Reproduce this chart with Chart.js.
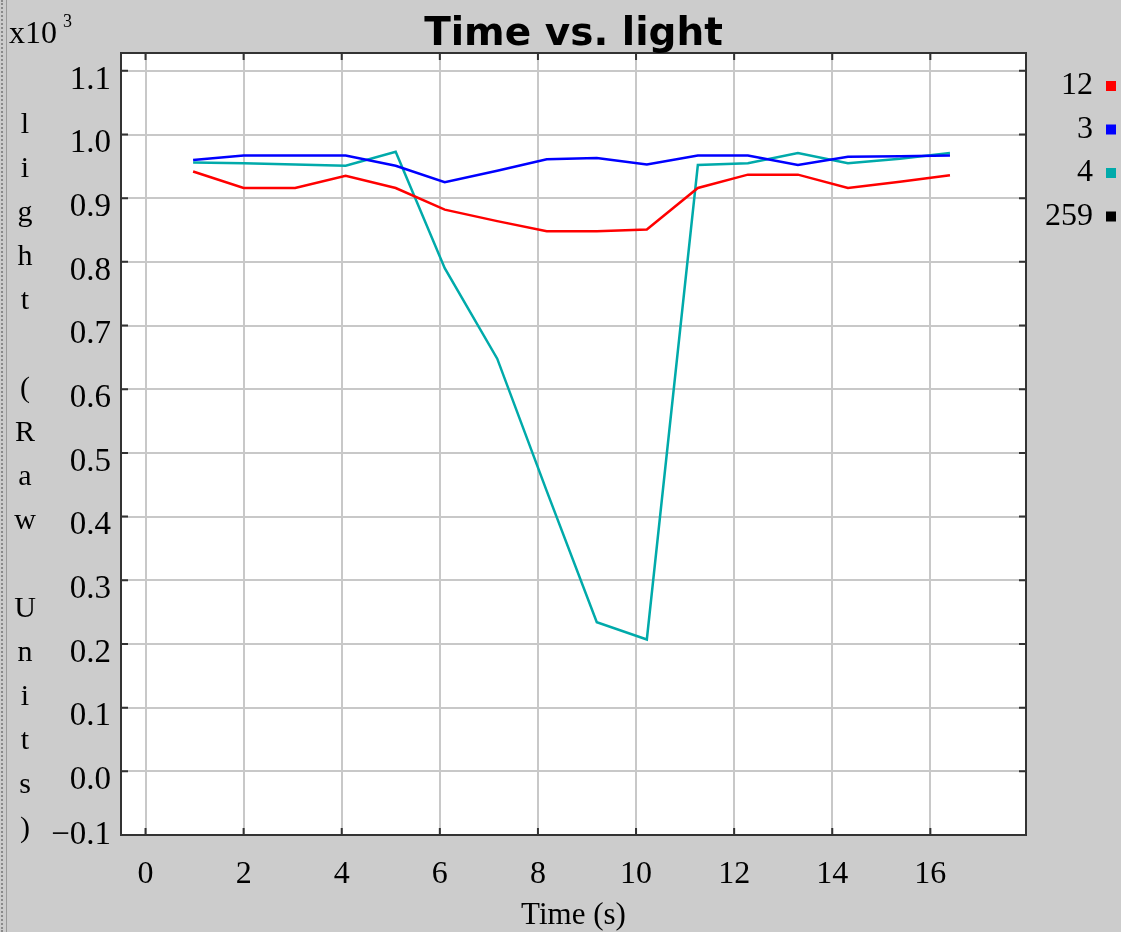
<!DOCTYPE html>
<html>
<head>
<meta charset="utf-8">
<script src="https://cdn.jsdelivr.net/npm/chart.js@4/dist/chart.umd.min.js"></script>
<style>
  html, body { margin: 0; padding: 0; background: #cccccc; }
  #wrap { position: relative; width: 1121px; height: 932px; }
  #edge { position: absolute; left: 1px; top: 0; width: 3px; height: 932px;
          border-left: 2px dotted #8a8a8a; border-right: 1px solid #9a9a9a; }
</style>
</head>
<body>
<div id="wrap">
  <canvas id="lightChart" width="1121" height="932"></canvas>
  <div id="edge"></div>
</div>
<script>
// sample times (s) and raw light readings per node
const times = [0.97, 2.0, 3.05, 4.08, 5.1, 6.1, 7.17, 8.18, 9.2, 10.22, 11.26, 12.28, 13.3, 14.32, 15.38, 16.4];
const node12 = [942, 916, 916, 935, 916, 882, 864, 848, 848, 851, 916, 937, 937, 916, 926, 936];
const node3 = [960, 967, 967, 967, 951, 925, 943, 961, 963, 953, 967, 967, 952, 965, 966, 967];
const node4 = [956, 955, 953, 951, 973, 790, 648, 440, 234, 207, 952, 955, 971, 955, 962, 971];
const node259 = [];

const seriesLabels = ['12', '3', '4', '259'];
const seriesColors = ['#ff0000', '#0000ff', '#00aaaa', '#000000'];

const chartTitle = 'Time vs. light';
const serifFont = '"Liberation Serif", "DejaVu Serif", serif';

function toPoints(values) {
    return values.map((v, i) => ({ x: times[i], y: v }));
}

// gray frame, white plot, border and small inward ticks like the original applet
const framePlugin = {
    id: 'frame',
    beforeDraw(chart) {
        const { ctx, chartArea: a } = chart;
        ctx.save();
        ctx.fillStyle = '#cccccc';
        ctx.fillRect(0, 0, chart.width, chart.height);
        ctx.fillStyle = '#ffffff';
        ctx.fillRect(a.left, a.top, a.right - a.left, a.bottom - a.top);
        ctx.restore();
    },
    afterDatasetsDraw(chart) {
        const { ctx, chartArea: a, scales } = chart;
        ctx.save();
        ctx.strokeStyle = '#333333';
        ctx.lineWidth = 2;
        ctx.strokeRect(a.left, a.top, a.right - a.left, a.bottom - a.top);
        ctx.beginPath();
        scales.x.ticks.forEach(t => {
            const px = scales.x.getPixelForValue(t.value);
            ctx.moveTo(px, a.top); ctx.lineTo(px, a.top + 7);
            ctx.moveTo(px, a.bottom); ctx.lineTo(px, a.bottom - 7);
        });
        scales.y.ticks.forEach(t => {
            const py = scales.y.getPixelForValue(t.value);
            ctx.moveTo(a.left, py); ctx.lineTo(a.left + 7, py);
            ctx.moveTo(a.right, py); ctx.lineTo(a.right - 7, py);
        });
        ctx.stroke();
        ctx.restore();
    },
    afterDraw(chart) {
        const { ctx, chartArea: a } = chart;
        ctx.save();
        ctx.fillStyle = '#000000';
        // title centred over the plot area
        ctx.font = 'bold 39px "DejaVu Sans", sans-serif';
        ctx.textAlign = 'center';
        ctx.textBaseline = 'alphabetic';
        ctx.fillText(chartTitle, (a.left + a.right) / 2, 45);
        // exponent note
        ctx.font = '32px ' + serifFont;
        ctx.textAlign = 'left';
        ctx.fillText('x10', 9, 43);
        ctx.font = '18px ' + serifFont;
        ctx.fillText('3', 63, 27);
        // stacked y axis title
        ctx.font = '30px ' + serifFont;
        ctx.textAlign = 'center';
        ctx.textBaseline = 'middle';
        'light (Raw Units)'.split('').forEach((ch, i) => {
            ctx.fillText(ch, 25, 125 + i * 44);
        });
        // legend: label then colour box on the right
        ctx.font = '32px ' + serifFont;
        ctx.textAlign = 'right';
        chart.data.datasets.forEach((ds, i) => {
            const y = 86 + i * 43.5;
            ctx.fillStyle = '#000000';
            ctx.fillText(ds.label, 1093, y);
            ctx.fillStyle = ds.borderColor;
            ctx.fillRect(1106, y - 5, 10, 10);
        });
        ctx.restore();
    }
};

const ctx = document.getElementById('lightChart').getContext('2d');

const lightChart = new Chart(ctx, {
    type: 'line',
    data: {
        datasets: [
            { label: seriesLabels[0], data: toPoints(node12), borderColor: seriesColors[0] },
            { label: seriesLabels[1], data: toPoints(node3), borderColor: seriesColors[1] },
            { label: seriesLabels[2], data: toPoints(node4), borderColor: seriesColors[2] },
            { label: seriesLabels[3], data: toPoints(node259), borderColor: seriesColors[3] }
        ]
    },
    options: {
        responsive: false,
        animation: false,
        elements: {
            line: { borderWidth: 2.5, tension: 0 },
            point: { radius: 0 }
        },
        layout: {
            padding: { left: 0, right: 95, top: 53, bottom: 0 }
        },
        plugins: {
            legend: { display: false },
            tooltip: { enabled: false },
            title: { display: false }
        },
        scales: {
            x: {
                type: 'linear',
                min: -0.5,
                max: 17.95,
                grid: { color: '#c8c8c8', lineWidth: 2, drawTicks: false },
                border: { display: false },
                ticks: {
                    stepSize: 2,
                    includeBounds: false,
                    padding: 20,
                    color: '#000000',
                    maxRotation: 0,
                    font: { family: serifFont, size: 32, lineHeight: 1.2 }
                },
                title: {
                    display: true,
                    text: 'Time (s)',
                    color: '#000000',
                    font: { family: serifFont, size: 31, lineHeight: 1 },
                    padding: { top: 0, bottom: 1 }
                },
                afterFit(scale) { scale.height = 97; }
            },
            y: {
                min: -100,
                max: 1128,
                grid: { color: '#c8c8c8', lineWidth: 2, drawTicks: false },
                border: { display: false },
                ticks: {
                    stepSize: 100,
                    includeBounds: false,
                    padding: 10,
                    color: '#000000',
                    font: { family: serifFont, size: 33, lineHeight: 0.55 },
                    // labels sit just under their grid line, except the bottom one
                    callback: function(value) {
                        const text = (value / 1000).toFixed(1).replace('-', '\u2212');
                        return value <= -100 ? text : ['', text];
                    }
                },
                afterFit(scale) { scale.width = 121; }
            }
        }
    },
    plugins: [framePlugin]
});
</script>
</body>
</html>
